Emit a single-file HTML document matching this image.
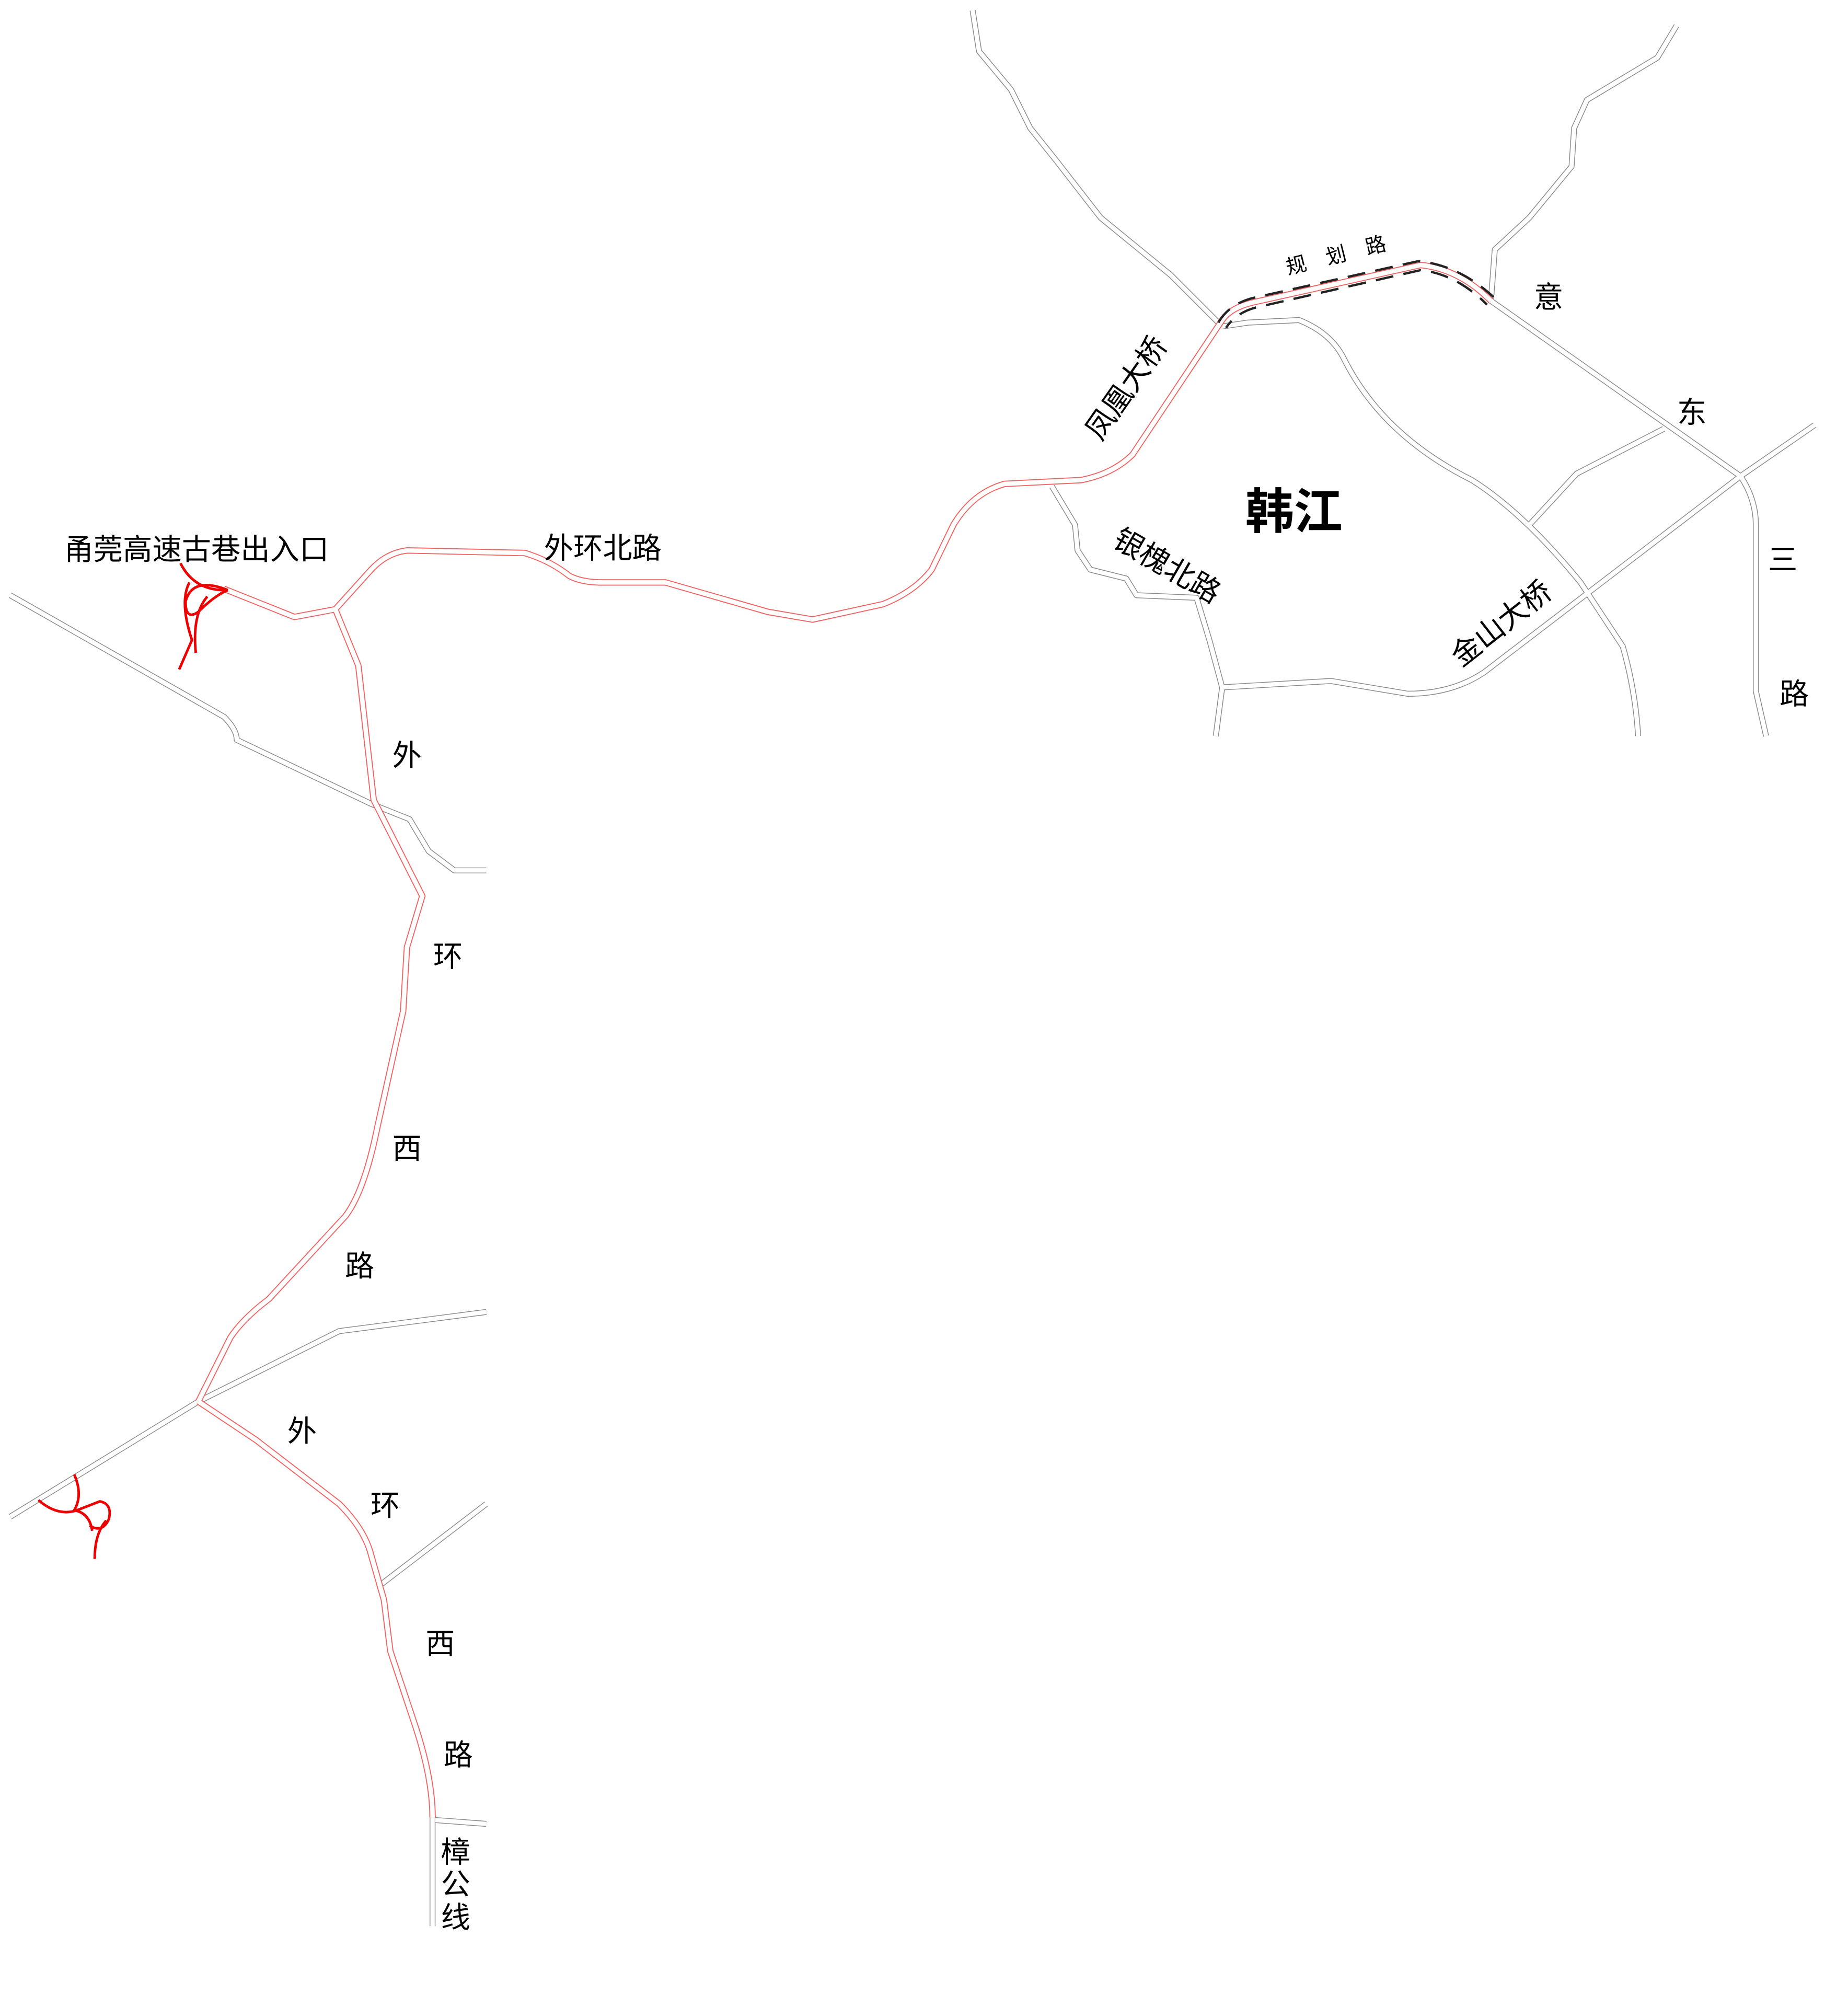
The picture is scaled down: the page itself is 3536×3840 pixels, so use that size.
<!DOCTYPE html>
<html><head><meta charset="utf-8"><style>
html,body{margin:0;padding:0;background:#fff;}
svg{display:block;}
text{font-family:"Liberation Sans","Noto Sans CJK SC",sans-serif;fill:#000;}
</style></head><body>
<svg width="3536" height="3840" viewBox="0 0 1444 1568" xmlns="http://www.w3.org/2000/svg">
<rect width="1444" height="1568" fill="#fff"/>
<g fill="none" stroke-linejoin="round" stroke-linecap="butt">
<g stroke="#8a8a8a" stroke-width="4.6">
<path d="M760,8 L765,40 L790,70 L805,100 L825,125 L860,170 L915,215 L955,255"/>
<path d="M1310,20 L1295,45 L1240,78 L1230,100 L1228,130 L1195,170 L1168,195 L1165,235"/>
<path d="M1165,235 L1360,372 L1418,332"/>
<path d="M1360,372 Q1372,390 1372,410 L1372,540 L1380,575"/>
<path d="M1360,372 L1160,525 Q1135,542 1100,542 L1040,532 L955,537 L950,575"/>
<path d="M822,380 L840,410 L842,430 L852,445 L880,452 L888,465 L935,467 L945,500 L955,537"/>
<path d="M955,255 L975,252 L1015,250 Q1040,260 1050,280 Q1080,340 1150,375 Q1190,400 1235,455 L1268,505 Q1278,540 1280,575"/>
<path d="M1300,335 L1232,370 L1195,410"/>
<path d="M8,465 L175,560 Q185,570 185,578 L290,628 L320,640 L335,665 L355,680 L380,680"/>
<path d="M8,1185 L155,1095 L265,1040 L380,1025"/>
<path d="M295,1240 L380,1175"/>
<path d="M338,1420 L338,1505"/>
<path d="M340,1422 L380,1425"/>
</g>
<g stroke="#fff" stroke-width="3.4">
<path d="M760,8 L765,40 L790,70 L805,100 L825,125 L860,170 L915,215 L955,255"/>
<path d="M1310,20 L1295,45 L1240,78 L1230,100 L1228,130 L1195,170 L1168,195 L1165,235"/>
<path d="M1165,235 L1360,372 L1418,332"/>
<path d="M1360,372 Q1372,390 1372,410 L1372,540 L1380,575"/>
<path d="M1360,372 L1160,525 Q1135,542 1100,542 L1040,532 L955,537 L950,575"/>
<path d="M822,380 L840,410 L842,430 L852,445 L880,452 L888,465 L935,467 L945,500 L955,537"/>
<path d="M955,255 L975,252 L1015,250 Q1040,260 1050,280 Q1080,340 1150,375 Q1190,400 1235,455 L1268,505 Q1278,540 1280,575"/>
<path d="M1300,335 L1232,370 L1195,410"/>
<path d="M8,465 L175,560 Q185,570 185,578 L290,628 L320,640 L335,665 L355,680 L380,680"/>
<path d="M8,1185 L155,1095 L265,1040 L380,1025"/>
<path d="M295,1240 L380,1175"/>
<path d="M338,1420 L338,1505"/>
<path d="M340,1422 L380,1425"/>
</g>
<g stroke="#f26060" stroke-width="5">
<path d="M175,460 L230,482 L262,476 L290,445 Q302,432 318,430 L410,432 Q430,438 445,450 Q455,455 470,455 L520,455 L600,478 L635,484 L690,472 Q715,462 728,445 L745,410 Q760,385 785,378 L845,375 Q870,370 885,355 L955,250"/>
<path d="M262,476 L280,520 L292,625 L330,700 L318,740 L315,790 L295,880 Q285,930 270,950 L210,1015 Q190,1030 180,1045 L155,1095"/>
<path d="M155,1095 L200,1125 L265,1175 Q285,1195 290,1215 L300,1250 L305,1290 L325,1350 Q338,1390 338,1420"/>
</g>
<g stroke="#fff" stroke-width="3.5">
<path d="M175,460 L230,482 L262,476 L290,445 Q302,432 318,430 L410,432 Q430,438 445,450 Q455,455 470,455 L520,455 L600,478 L635,484 L690,472 Q715,462 728,445 L745,410 Q760,385 785,378 L845,375 Q870,370 885,355 L955,250"/>
<path d="M262,476 L280,520 L292,625 L330,700 L318,740 L315,790 L295,880 Q285,930 270,950 L210,1015 Q190,1030 180,1045 L155,1095"/>
<path d="M155,1095 L200,1125 L265,1175 Q285,1195 290,1215 L300,1250 L305,1290 L325,1350 Q338,1390 338,1420"/>
</g>
<path d="M955,250 Q962,240 980,236 L1110,207 Q1140,210 1165,235" stroke="#f26060" stroke-width="5"/>
<path d="M955,250 Q962,240 980,236 L1110,207 Q1140,210 1165,235" stroke="#fff" stroke-width="3.5"/>
<path d="M952,252 Q960,238 978,233 L1108,204 Q1140,207 1167,232" stroke="#222" stroke-width="1.8" stroke-dasharray="14,8"/>
<path d="M958,256 Q966,244 982,240 L1110,211 Q1138,214 1162,238" stroke="#222" stroke-width="1.8" stroke-dasharray="14,8" stroke-dashoffset="7"/>
<g stroke="#e00" stroke-width="2">
<path d="M141,440 Q152,462 178,461"/>
<path d="M178,461 Q150,450 145,470 Q145,485 155,478 Q168,465 178,461"/>
<path d="M148,455 Q140,470 150,500 L140,523"/>
<path d="M162,466 Q150,480 153,510"/>
<path d="M30,1172 Q45,1185 60,1180 L78,1173 Q88,1175 85,1187 Q80,1198 70,1192"/>
<path d="M58,1152 Q65,1168 58,1180 Q70,1182 72,1196"/>
<path d="M83,1188 Q74,1198 74,1218"/>
</g>
</g>
<g font-size="23">
<text x="50" y="437">甬莞高速古巷出入口</text>
<text x="425" y="436">外环北路</text>
<text transform="translate(880,303) rotate(-55)" text-anchor="middle" y="8">凤凰大桥</text>
<text transform="translate(912,442) rotate(30)" text-anchor="middle" y="8">银槐北路</text>
<text transform="translate(1173,487) rotate(-38)" text-anchor="middle" y="8">金山大桥</text>
<text transform="translate(1044,200) rotate(-14)" text-anchor="middle" font-size="16" y="5">规　划　路</text>
<g text-anchor="middle">
<text x="1210" y="240">意</text>
<text x="1322" y="330">东</text>
<text x="1393" y="445">三</text>
<text x="1402" y="550">路</text>
<text x="318" y="598">外</text>
<text x="350" y="755">环</text>
<text x="318" y="905">西</text>
<text x="281" y="997">路</text>
<text x="236" y="1126">外</text>
<text x="301" y="1184">环</text>
<text x="344" y="1292">西</text>
<text x="358" y="1379">路</text>
<text x="356" y="1455">樟</text>
<text x="356" y="1480">公</text>
<text x="356" y="1506">线</text>
</g>
<text x="973" y="413" font-size="38" font-weight="bold">韩江</text>
</g>
</svg>
</body></html>
